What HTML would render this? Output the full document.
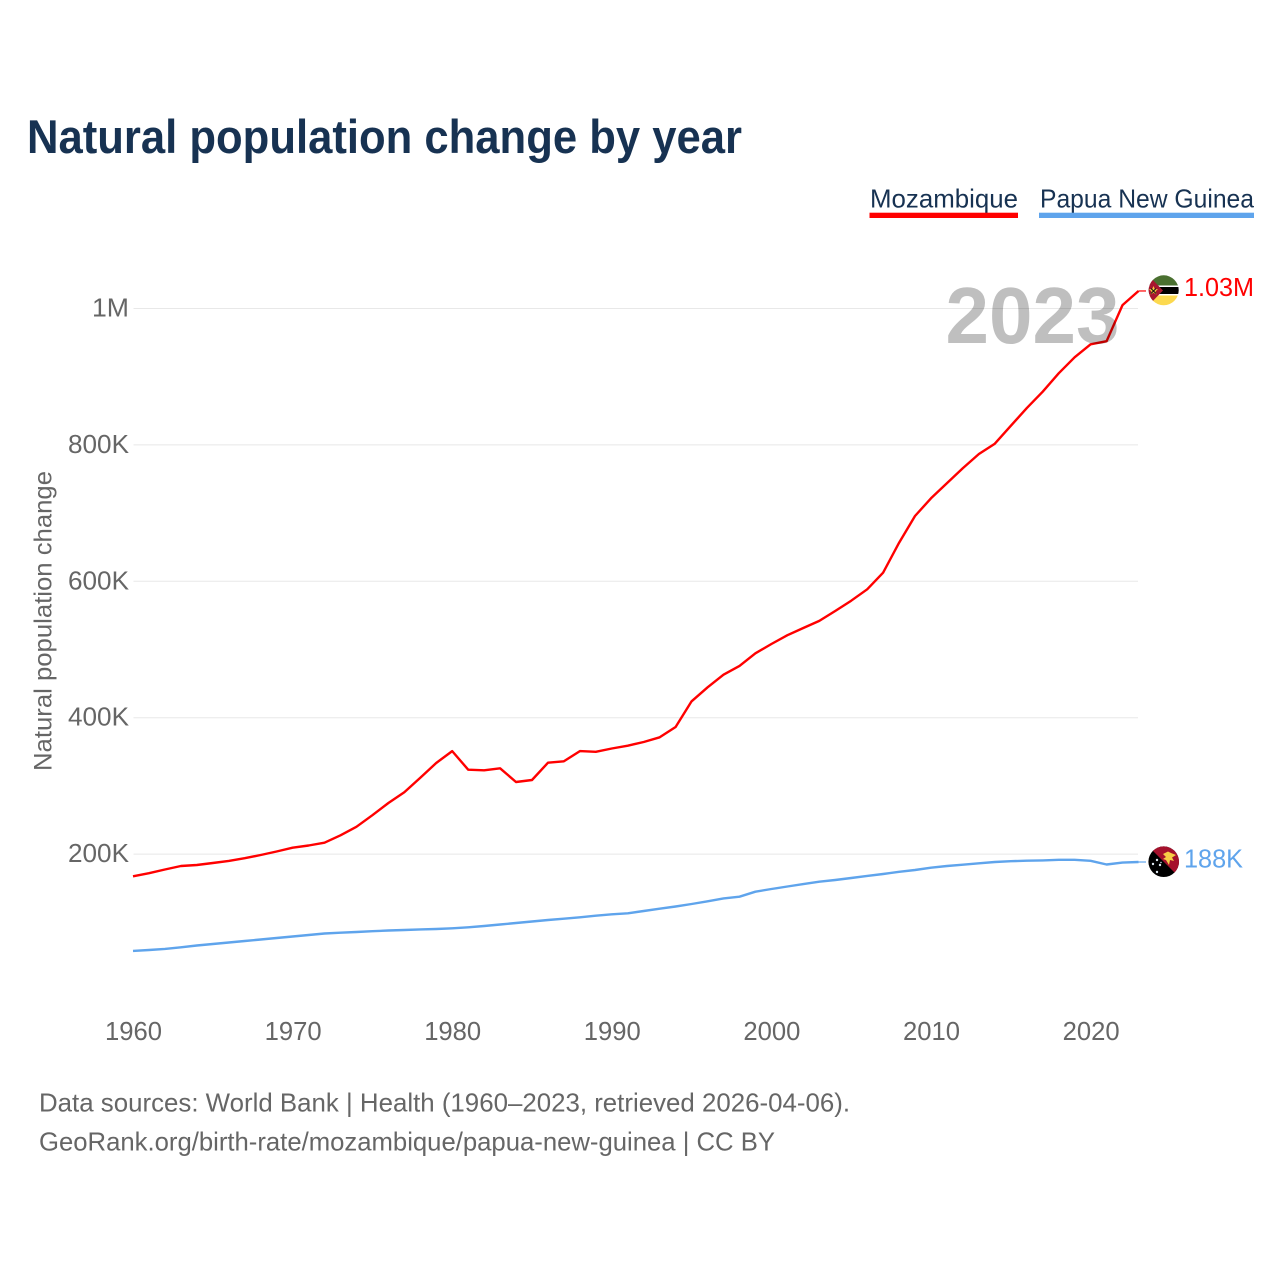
<!DOCTYPE html>
<html lang="en">
<head>
<meta charset="utf-8">
<title>Natural population change by year</title>
<style>
html,body{margin:0;padding:0;background:#fff;width:1280px;height:1280px;overflow:hidden}
svg{display:block;font-family:"Liberation Sans",sans-serif}
</style>
</head>
<body>
<svg id="chart" xmlns="http://www.w3.org/2000/svg" width="1280" height="1280" viewBox="0 0 1280 1280">
  <defs>
    <clipPath id="flag-clip-mz"><circle cx="1163.7" cy="290.3" r="15"/></clipPath>
    <clipPath id="flag-clip-pg"><circle cx="1163.7" cy="861.7" r="15.3"/></clipPath>
  </defs>
  <rect width="1280" height="1280" fill="#fff"/>
  <text x="27" y="153" font-size="47" font-weight="700" fill="#173252" textLength="715" lengthAdjust="spacingAndGlyphs">Natural population change by year</text>

  <g>
    <text x="870" y="207.7" font-size="26" fill="#173252" textLength="148" lengthAdjust="spacingAndGlyphs">Mozambique</text>
    <rect x="869.5" y="212.7" width="148.5" height="5.3" fill="#ff0000"/>
  </g>
  <g>
    <text x="1040" y="207.7" font-size="26" fill="#173252" textLength="214" lengthAdjust="spacingAndGlyphs">Papua New Guinea</text>
    <rect x="1039" y="212.7" width="215" height="5.3" fill="#5fa4ec"/>
  </g>

  <g id="grid"></g>
  <g id="y-axis"></g>
  <g id="x-axis"></g>
  <text transform="translate(51.5 621) rotate(-90)" text-anchor="middle" font-size="25" fill="#666" textLength="300" lengthAdjust="spacingAndGlyphs">Natural population change</text>

  <g id="series"></g>

  <text x="945.5" y="343" font-size="80" font-weight="700" fill="#000" fill-opacity="0.25" textLength="174" lengthAdjust="spacingAndGlyphs">2023</text>

  <g clip-path="url(#flag-clip-mz)">
    <rect x="1148" y="275" width="32" height="31" fill="#fff"/>
    <rect x="1148" y="275" width="32" height="10.5" fill="#4a7030"/>
    <rect x="1148" y="287" width="32" height="7" fill="#000"/>
    <rect x="1148" y="295.5" width="32" height="11" fill="#fcd94f"/>
    <polygon points="1148,275 1163,290.5 1148,306" fill="#a8162f"/>
    <polygon points="1153.5,286 1154.8,289 1158,289.3 1155.6,291.3 1156.4,294.5 1153.5,292.8 1150.6,294.5 1151.4,291.3 1149,289.3 1152.2,289" fill="#f5c93f"/>
    <path d="M1151 288.5l5 5M1156 288.5l-5 5" stroke="#111" stroke-width="1"/>
  </g>
  <g clip-path="url(#flag-clip-pg)">
    <rect x="1148" y="846" width="32" height="32" fill="#000"/>
    <polygon points="1148,846 1180,846 1180,878" fill="#a5112c"/>
    <polygon points="1163,854 1168,851.5 1171,853 1176,855 1172,857.5 1174,861 1170,860 1169,865 1166,860 1163,859 1166,857" fill="#f7cd46"/>
    <g fill="#dfe9f2">
      <circle cx="1157" cy="860" r="1.2"/><circle cx="1153" cy="864" r="1.2"/><circle cx="1160" cy="865" r="1.2"/>
      <circle cx="1157" cy="872" r="1.2"/><circle cx="1161" cy="862.5" r=".7"/>
    </g>
  </g>

  <text id="end-label-mozambique" x="1184" y="296" font-size="26" fill="#ff0000" textLength="70" lengthAdjust="spacingAndGlyphs"></text>
  <text id="end-label-png" x="1184" y="867.5" font-size="26" fill="#5fa4ec" textLength="59" lengthAdjust="spacingAndGlyphs"></text>

  <text x="39" y="1111.7" font-size="26" fill="#666" textLength="811" lengthAdjust="spacingAndGlyphs">Data sources: World Bank | Health (1960–2023, retrieved 2026-04-06).</text>
  <text x="39" y="1150.5" font-size="26" fill="#666" textLength="736" lengthAdjust="spacingAndGlyphs">GeoRank.org/birth-rate/mozambique/papua-new-guinea | CC BY</text>
</svg>
<script>
const startYear = 1960;
const mozambiqueValues = [167.4,172,177.4,182.5,184,187,190,194,198.7,203.8,209.4,212.6,216.7,227.6,240,257,275,290.6,312,333.6,351,323.8,322.9,325.8,305.7,308.6,334,336,351,350,354.8,359,364.4,371.3,386.4,424,444.6,463,476,494.4,508,521,531.5,542,556.5,571.6,588.3,612.6,656.6,695.7,721.7,744,766,786.7,801.8,828,854,878,905,928.5,947.5,952,1005,1025.7];
const papuaNewGuineaValues = [58,59.4,61,63.4,66,68.2,70.4,72.6,74.8,77,79.2,81.4,83.6,84.8,85.8,87,88,88.7,89.6,90.2,91.2,92.7,94.6,96.8,99,101.2,103.4,105.3,107.3,109.7,111.7,113.2,116.6,120,123.2,126.8,130.8,135,137.5,144.9,148.8,152.5,156,159.5,162,165,168,170.8,174,176.7,180,182.5,184.5,186.5,188.4,189.6,190.3,190.8,191.6,191.6,190.2,184.8,187.5,188.4];
const yTickValues = [200,400,600,800,1000];
const yTickLabels = ["200K","400K","600K","800K","1M"];
const xTickYears = [1960,1970,1980,1990,2000,2010,2020];

const NS = "http://www.w3.org/2000/svg";
function xScale(year){ return 133 + (year - 1960) * 15.96; }
function yScale(k){ return 990.5 - k * 0.682; }
function formatEnd(k){ return k >= 1000 ? (k / 1000).toFixed(2) + "M" : Math.round(k) + "K"; }

const grid = document.getElementById("grid");
const yAxis = document.getElementById("y-axis");
yTickValues.forEach(function(v, i){
  const line = document.createElementNS(NS, "line");
  
  
  line.setAttribute("x1", 133.5);
  line.setAttribute("x2", 1138);
  line.setAttribute("y1", yScale(v));
  line.setAttribute("y2", yScale(v));
  line.setAttribute("stroke", "#e8e8e8");
  line.setAttribute("stroke-width", "1");
  grid.appendChild(line);

  const t = document.createElementNS(NS, "text");
  
  
  t.setAttribute("x", 129);
  t.setAttribute("y", yScale(v) + 8);
  t.setAttribute("text-anchor", "end");
  t.setAttribute("font-size", "26");
  t.setAttribute("fill", "#666");
  t.setAttribute("textLength", yTickLabels[i].length === 2 ? 37 : 61);
  t.setAttribute("lengthAdjust", "spacingAndGlyphs");
  t.textContent = yTickLabels[i];
  yAxis.appendChild(t);
});

const xAxis = document.getElementById("x-axis");
xTickYears.forEach(function(year){
  const t = document.createElementNS(NS, "text");
  
  
  t.setAttribute("x", xScale(year) + 0.5);
  t.setAttribute("y", 1040);
  t.setAttribute("text-anchor", "middle");
  t.setAttribute("font-size", "26");
  t.setAttribute("fill", "#666");
  t.setAttribute("textLength", 57);
  t.setAttribute("lengthAdjust", "spacingAndGlyphs");
  t.textContent = year;
  xAxis.appendChild(t);
});

function pointsFor(values){
  return values.map(function(v, i){
    return xScale(startYear + i).toFixed(1) + "," + yScale(v).toFixed(1);
  }).join(" ");
}

const seriesGroup = document.getElementById("series");

const redLine = document.createElementNS(NS, "polyline");


redLine.setAttribute("points", pointsFor(mozambiqueValues));
redLine.setAttribute("fill", "none");
redLine.setAttribute("stroke", "#ff0000");
redLine.setAttribute("stroke-width", "2.4");
redLine.setAttribute("stroke-linejoin", "round");
seriesGroup.appendChild(redLine);

const blueLine = document.createElementNS(NS, "polyline");


blueLine.setAttribute("points", pointsFor(papuaNewGuineaValues));
blueLine.setAttribute("fill", "none");
blueLine.setAttribute("stroke", "#5fa4ec");
blueLine.setAttribute("stroke-width", "2.4");
blueLine.setAttribute("stroke-linejoin", "round");
seriesGroup.appendChild(blueLine);

const lastRed = mozambiqueValues[mozambiqueValues.length - 1];
const lastBlue = papuaNewGuineaValues[papuaNewGuineaValues.length - 1];
const lastX = xScale(startYear + mozambiqueValues.length - 1);

const redLead = document.createElementNS(NS, "line");


redLead.setAttribute("x1", lastX);
redLead.setAttribute("x2", 1146);
redLead.setAttribute("y1", yScale(lastRed));
redLead.setAttribute("y2", yScale(lastRed));
redLead.setAttribute("stroke", "#ff0000");
redLead.setAttribute("stroke-width", "1.2");
seriesGroup.appendChild(redLead);

const blueLead = document.createElementNS(NS, "line");


blueLead.setAttribute("x1", lastX);
blueLead.setAttribute("x2", 1146);
blueLead.setAttribute("y1", yScale(lastBlue));
blueLead.setAttribute("y2", yScale(lastBlue));
blueLead.setAttribute("stroke", "#5fa4ec");
blueLead.setAttribute("stroke-width", "1.2");
seriesGroup.appendChild(blueLead);

document.getElementById("end-label-mozambique").textContent = formatEnd(lastRed);
document.getElementById("end-label-png").textContent = formatEnd(lastBlue);
</script>
</body>
</html>
